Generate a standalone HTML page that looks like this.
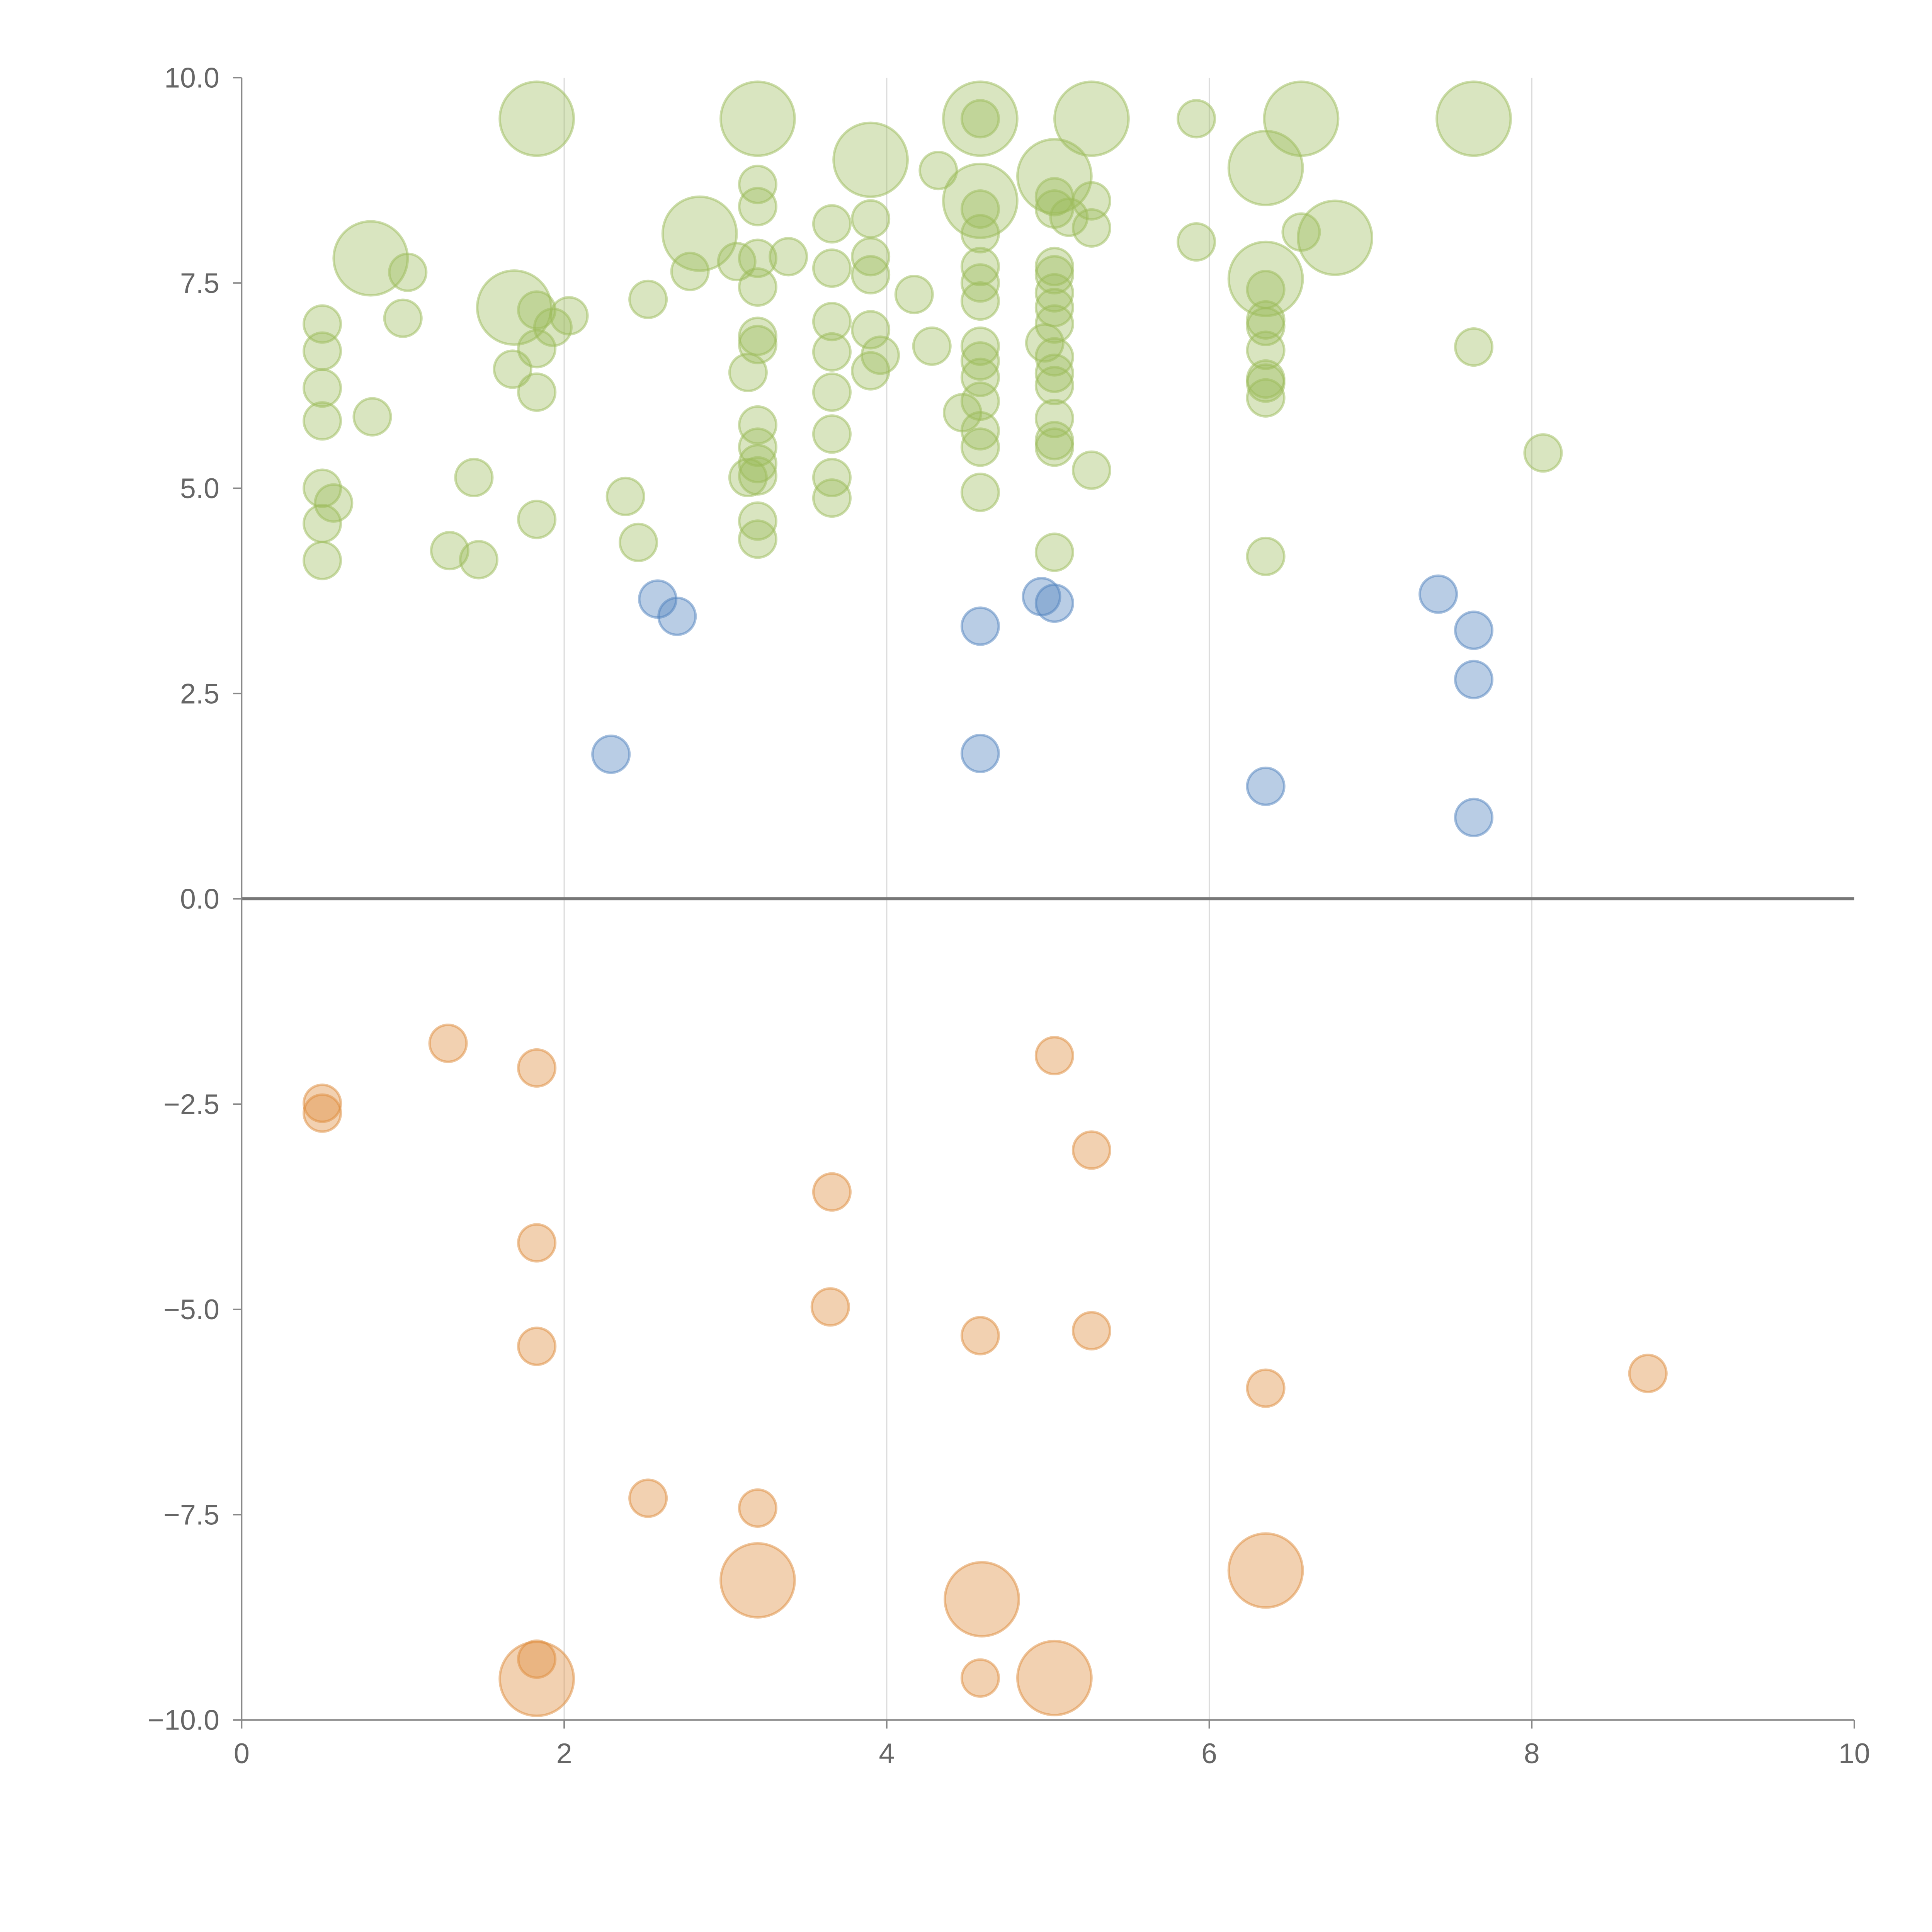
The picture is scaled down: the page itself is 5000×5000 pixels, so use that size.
<!DOCTYPE html>
<html><head><meta charset="utf-8"><style>
html,body{margin:0;padding:0;background:#fff;width:5000px;height:5000px;overflow:hidden}
svg{display:block}
</style></head><body>
<svg id="chart" width="5000" height="5000" viewBox="0 0 1567 1567" xmlns="http://www.w3.org/2000/svg">
<g id="grid"></g>
<g id="marks"></g>
<g id="axes"></g>
</svg>
<script>
const xTicks=[0,2,4,6,8,10];
const yTicks=[-10,-7.5,-5,-2.5,0,2.5,5,7.5,10];
const greenX=[0.8,1.69,1.83,2.84,3.2,3.9,4.58,4.58,5.04,5.27,6.35,6.57,6.35,6.78,7.64,
0.5,0.5,0.5,0.5,0.5,0.5,0.5,0.57,0.81,1.0,1.03,1.29,1.44,1.47,1.68,1.83,1.83,1.83,1.83,1.93,2.03,2.38,2.46,2.52,2.78,3.07,3.14,3.14,
3.2,3.2,3.2,3.2,3.2,3.2,3.2,3.2,3.2,3.2,3.2,3.2,3.39,
3.66,3.66,3.66,3.66,3.66,3.66,3.66,3.66,3.9,3.9,3.9,3.9,3.9,3.96,4.17,4.32,4.28,4.47,
4.58,4.58,4.58,4.58,4.58,4.58,4.58,4.58,4.58,4.58,4.58,4.58,4.58,
5.04,5.04,5.04,5.04,5.04,5.04,5.04,5.04,5.04,5.04,5.04,5.04,5.04,5.04,4.98,5.13,5.27,5.27,5.27,5.92,5.92,6.57,
6.35,6.35,6.35,6.35,6.35,6.35,6.35,6.35,7.64,8.07];
const greenY=[7.8,7.2,9.5,8.1,9.5,9.0,9.5,8.5,8.8,9.5,8.9,9.5,7.55,8.05,9.5,
7.0,6.67,6.22,5.82,5.0,4.57,4.12,4.82,5.87,7.07,7.63,4.24,5.13,4.13,6.45,7.17,6.7,6.17,4.62,6.96,7.1,4.9,4.34,7.3,7.64,7.76,5.13,6.41,
8.7,8.43,7.8,7.45,6.85,6.75,5.77,5.5,5.3,5.15,4.6,4.38,7.82,
8.22,7.68,7.03,6.66,6.17,5.66,5.13,4.88,8.28,7.82,7.6,6.93,6.43,6.62,7.36,8.87,6.73,5.92,
9.5,8.4,8.1,7.7,7.5,7.28,6.73,6.55,6.35,6.06,5.7,5.5,4.95,
8.55,8.4,7.7,7.6,7.38,7.2,7.0,6.6,6.4,6.25,5.85,5.58,5.5,4.22,6.77,8.3,8.5,8.17,5.22,9.5,8.0,8.12,
7.42,7.05,6.97,6.68,6.33,6.28,6.1,4.17,6.72,5.43];
const greenS=[4,4,4,4,4,4,4,4,4,4,4,4,4,4,4];
const blueX=[2.58,2.7,2.29,4.58,4.58,4.96,5.04,6.35,7.42,7.64,7.64,7.64];
const blueY=[3.65,3.44,1.76,3.32,1.77,3.68,3.6,1.37,3.71,3.27,2.67,0.99];
const orangeX=[0.5,0.5,1.28,1.83,1.83,1.83,1.83,2.52,3.2,3.66,3.65,4.58,4.58,5.04,5.27,5.27,6.35,8.72,3.2,4.59,6.35,1.83,5.04];
const orangeY=[-2.49,-2.61,-1.76,-2.06,-4.19,-5.45,-9.26,-7.3,-7.42,-3.57,-4.97,-5.32,-9.49,-1.91,-3.06,-5.26,-5.96,-5.78,-8.3,-8.53,-8.18,-9.5,-9.49];
const orangeS=[1,1,1,1,1,1,1,1,1,1,1,1,1,1,1,1,1,1,4,4,4,4,4];

const NS='http://www.w3.org/2000/svg';
const X0=196,X1=1504,Y0=1395,Y1=63;
function sx(v){return X0+(v-0)/(10-0)*(X1-X0);}
function sy(v){return Y0-(v+10)/20*(Y0-Y1);}
function rad(s){return 15*Math.sqrt(s);}
function mk(tag,attrs,parent){const e=document.createElementNS(NS,tag);for(const k in attrs)e.setAttribute(k,attrs[k]);parent.appendChild(e);return e;}
const grid=document.getElementById('grid'),marks=document.getElementById('marks'),axes=document.getElementById('axes');

xTicks.forEach(t=>{if(t>0&&t<10){const l=mk('line',{x1:sx(t),x2:sx(t),y1:Y1,y2:Y0,stroke:'#dcdcdc','stroke-width':1},grid);

}});

function drawSeries(xs,ys,ss,fill,stroke,name){
  xs.forEach((x,i)=>{const s=ss&&ss[i]!==undefined?ss[i]:1;
    const c=mk('circle',{cx:sx(x),cy:sy(ys[i]),r:rad(s),fill:fill,stroke:stroke,'stroke-width':2},marks);
    
    });
}
drawSeries(greenX,greenY,greenS,'rgba(155,187,89,0.38)','rgba(155,187,89,0.5)','bubble-green');
drawSeries(blueX,blueY,null,'rgba(79,129,189,0.4)','rgba(79,129,189,0.5)','bubble-blue');
drawSeries(orangeX,orangeY,orangeS,'rgba(222,140,60,0.4)','rgba(222,140,60,0.5)','bubble-orange');

const zl=mk('line',{x1:X0,x2:X1,y1:sy(0),y2:sy(0),stroke:'#777','stroke-width':2.5},axes);


const ya=mk('line',{x1:X0,x2:X0,y1:Y1,y2:Y0,stroke:'#888','stroke-width':1.2},axes);


const xa=mk('line',{x1:X0,x2:X1,y1:Y0,y2:Y0,stroke:'#888','stroke-width':1.2},axes);


yTicks.forEach(t=>{mk('line',{x1:X0-7,x2:X0,y1:sy(t),y2:sy(t),stroke:'#888','stroke-width':1.2},axes);
  const tx=mk('text',{x:X0-18,y:sy(t)+8,'text-anchor':'end','font-family':'Liberation Sans, sans-serif','font-size':23,fill:'#666'},axes);
  tx.textContent=(t<0?'\u2212':'')+Math.abs(t).toFixed(1);
  
  });
xTicks.forEach(t=>{mk('line',{x1:sx(t),x2:sx(t),y1:Y0,y2:Y0+7,stroke:'#888','stroke-width':1.2},axes);
  const tx=mk('text',{x:sx(t),y:Y0+35,'text-anchor':'middle','font-family':'Liberation Sans, sans-serif','font-size':23,fill:'#666'},axes);
  tx.textContent=String(t);
  
  });
</script>
</body></html>
